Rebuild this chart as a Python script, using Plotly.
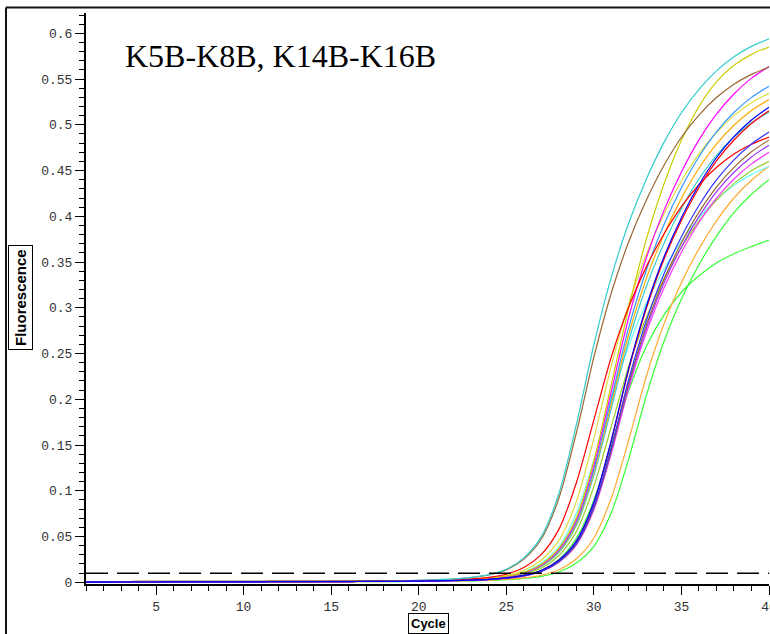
import plotly.graph_objects as go

# ---------------- data ----------------
cycles = [1, 2, 3, 4, 5, 6, 7, 8, 9, 10, 11, 12, 13, 14, 15, 16, 17, 18, 19, 20,
          21, 22, 23, 24, 25, 26, 27, 28, 29, 30, 31, 32, 33, 34, 35, 36, 37, 38, 39, 40]

cyan_1 = [0.0004, 0.0004, 0.0005, 0.0005, 0.0005, 0.0005, 0.0006, 0.0006, 0.0006, 0.0006,
          0.0007, 0.0007, 0.0008, 0.0008, 0.0009, 0.0010, 0.0011, 0.0013, 0.0016, 0.0021,
          0.0027, 0.0036, 0.0053, 0.0083, 0.0143, 0.0267, 0.0499, 0.0968, 0.1723, 0.2596,
          0.3338, 0.3932, 0.4407, 0.4805, 0.5132, 0.5388, 0.5590, 0.5744, 0.5857, 0.5940]
brown_1 = [0.0008, 0.0008, 0.0008, 0.0009, 0.0009, 0.0009, 0.0010, 0.0010, 0.0010, 0.0011,
           0.0011, 0.0012, 0.0012, 0.0013, 0.0013, 0.0014, 0.0015, 0.0016, 0.0018, 0.0020,
           0.0025, 0.0034, 0.0051, 0.0079, 0.0135, 0.0253, 0.0473, 0.0918, 0.1633, 0.2460,
           0.3164, 0.3727, 0.4177, 0.4555, 0.4864, 0.5106, 0.5298, 0.5444, 0.5551, 0.5630]
red_1 = [0.0002, 0.0002, 0.0003, 0.0003, 0.0003, 0.0004, 0.0004, 0.0004, 0.0005, 0.0005,
         0.0005, 0.0006, 0.0006, 0.0007, 0.0007, 0.0008, 0.0009, 0.0010, 0.0012, 0.0015,
         0.0020, 0.0025, 0.0037, 0.0054, 0.0088, 0.0162, 0.0304, 0.0578, 0.1088, 0.1774,
         0.2465, 0.3014, 0.3450, 0.3807, 0.4106, 0.4346, 0.4533, 0.4680, 0.4787, 0.4866]
gold_1 = [0.0002, 0.0002, 0.0003, 0.0003, 0.0003, 0.0004, 0.0004, 0.0004, 0.0005, 0.0005,
          0.0005, 0.0006, 0.0006, 0.0007, 0.0007, 0.0008, 0.0009, 0.0010, 0.0011, 0.0015,
          0.0018, 0.0024, 0.0030, 0.0045, 0.0066, 0.0108, 0.0197, 0.0371, 0.0706, 0.1328,
          0.2165, 0.3008, 0.3750, 0.4350, 0.4830, 0.5200, 0.5470, 0.5650, 0.5770, 0.5850]
magenta_1 = [0.0002, 0.0002, 0.0003, 0.0003, 0.0003, 0.0004, 0.0004, 0.0004, 0.0005, 0.0005,
             0.0005, 0.0006, 0.0006, 0.0007, 0.0007, 0.0008, 0.0009, 0.0010, 0.0011, 0.0014,
             0.0017, 0.0023, 0.0029, 0.0043, 0.0063, 0.0104, 0.0190, 0.0358, 0.0681, 0.1281,
             0.2089, 0.2902, 0.3549, 0.4062, 0.4483, 0.4835, 0.5118, 0.5337, 0.5510, 0.5637]
dodger_1 = [0.0002, 0.0002, 0.0003, 0.0003, 0.0003, 0.0004, 0.0004, 0.0004, 0.0005, 0.0005,
            0.0005, 0.0006, 0.0006, 0.0007, 0.0007, 0.0008, 0.0009, 0.0010, 0.0011, 0.0014,
            0.0017, 0.0022, 0.0028, 0.0042, 0.0061, 0.0100, 0.0183, 0.0344, 0.0655, 0.1232,
            0.2009, 0.2792, 0.3413, 0.3907, 0.4312, 0.4651, 0.4923, 0.5134, 0.5300, 0.5422]
khaki_1 = [0.0002, 0.0002, 0.0003, 0.0003, 0.0003, 0.0004, 0.0004, 0.0004, 0.0005, 0.0005,
           0.0005, 0.0006, 0.0006, 0.0007, 0.0007, 0.0008, 0.0009, 0.0010, 0.0012, 0.0016,
           0.0019, 0.0024, 0.0033, 0.0049, 0.0076, 0.0130, 0.0244, 0.0455, 0.0883, 0.1572,
           0.2369, 0.3046, 0.3588, 0.4022, 0.4385, 0.4683, 0.4916, 0.5100, 0.5241, 0.5344]
orange_1 = [0.0002, 0.0002, 0.0003, 0.0003, 0.0003, 0.0004, 0.0004, 0.0004, 0.0005, 0.0005,
            0.0005, 0.0006, 0.0006, 0.0007, 0.0007, 0.0008, 0.0009, 0.0010, 0.0011, 0.0014,
            0.0016, 0.0022, 0.0027, 0.0041, 0.0059, 0.0097, 0.0178, 0.0335, 0.0637, 0.1199,
            0.1955, 0.2716, 0.3321, 0.3802, 0.4196, 0.4525, 0.4790, 0.4995, 0.5157, 0.5276]
blue_1 = [0.0002, 0.0002, 0.0003, 0.0003, 0.0003, 0.0004, 0.0004, 0.0004, 0.0005, 0.0005,
          0.0005, 0.0006, 0.0006, 0.0007, 0.0007, 0.0008, 0.0009, 0.0010, 0.0011, 0.0013,
          0.0016, 0.0019, 0.0024, 0.0032, 0.0048, 0.0075, 0.0129, 0.0242, 0.0451, 0.0875,
          0.1557, 0.2347, 0.3018, 0.3555, 0.3985, 0.4344, 0.4640, 0.4871, 0.5053, 0.5193]
red_2 = [0.0004, 0.0004, 0.0005, 0.0005, 0.0005, 0.0005, 0.0006, 0.0006, 0.0006, 0.0006,
         0.0007, 0.0007, 0.0008, 0.0008, 0.0009, 0.0010, 0.0011, 0.0012, 0.0012, 0.0013,
         0.0016, 0.0019, 0.0024, 0.0032, 0.0048, 0.0075, 0.0128, 0.0240, 0.0448, 0.0869,
         0.1546, 0.2329, 0.2995, 0.3528, 0.3955, 0.4312, 0.4605, 0.4834, 0.5015, 0.5154]
cyan_2 = [0.0004, 0.0004, 0.0005, 0.0005, 0.0005, 0.0005, 0.0006, 0.0006, 0.0006, 0.0006,
          0.0007, 0.0007, 0.0008, 0.0008, 0.0009, 0.0010, 0.0011, 0.0012, 0.0012, 0.0013,
          0.0016, 0.0021, 0.0026, 0.0039, 0.0058, 0.0095, 0.0174, 0.0326, 0.0621, 0.1168,
          0.1904, 0.2646, 0.3235, 0.3703, 0.4087, 0.4408, 0.4666, 0.4866, 0.5023, 0.5139]
blue_2 = [0.0002, 0.0002, 0.0003, 0.0003, 0.0003, 0.0004, 0.0004, 0.0004, 0.0005, 0.0005,
          0.0005, 0.0006, 0.0006, 0.0007, 0.0007, 0.0008, 0.0009, 0.0010, 0.0011, 0.0013,
          0.0015, 0.0018, 0.0023, 0.0031, 0.0046, 0.0071, 0.0122, 0.0229, 0.0428, 0.0830,
          0.1476, 0.2224, 0.2861, 0.3370, 0.3777, 0.4118, 0.4398, 0.4617, 0.4790, 0.4922]
brown_2 = [0.0008, 0.0008, 0.0008, 0.0009, 0.0009, 0.0009, 0.0010, 0.0010, 0.0010, 0.0011,
           0.0011, 0.0012, 0.0012, 0.0013, 0.0013, 0.0014, 0.0015, 0.0016, 0.0018, 0.0019,
           0.0021, 0.0023, 0.0026, 0.0031, 0.0045, 0.0070, 0.0120, 0.0225, 0.0420, 0.0815,
           0.1450, 0.2185, 0.2810, 0.3310, 0.3710, 0.4045, 0.4320, 0.4535, 0.4705, 0.4835]
purple_1 = [0.0002, 0.0002, 0.0003, 0.0003, 0.0003, 0.0004, 0.0004, 0.0004, 0.0005, 0.0005,
            0.0005, 0.0006, 0.0006, 0.0007, 0.0007, 0.0008, 0.0009, 0.0010, 0.0011, 0.0012,
            0.0015, 0.0017, 0.0022, 0.0030, 0.0044, 0.0069, 0.0119, 0.0222, 0.0415, 0.0805,
            0.1433, 0.2159, 0.2776, 0.3270, 0.3665, 0.3996, 0.4268, 0.4481, 0.4649, 0.4777]
magenta_2 = [0.0002, 0.0002, 0.0003, 0.0003, 0.0003, 0.0004, 0.0004, 0.0004, 0.0005, 0.0005,
             0.0005, 0.0006, 0.0006, 0.0007, 0.0007, 0.0008, 0.0009, 0.0010, 0.0011, 0.0012,
             0.0015, 0.0017, 0.0022, 0.0029, 0.0044, 0.0068, 0.0117, 0.0219, 0.0408, 0.0792,
             0.1409, 0.2124, 0.2731, 0.3217, 0.3606, 0.3932, 0.4199, 0.4408, 0.4573, 0.4700]
ygreen_1 = [0.0002, 0.0002, 0.0003, 0.0003, 0.0003, 0.0004, 0.0004, 0.0004, 0.0005, 0.0005,
            0.0005, 0.0006, 0.0006, 0.0007, 0.0007, 0.0008, 0.0009, 0.0010, 0.0011, 0.0012,
            0.0014, 0.0019, 0.0024, 0.0035, 0.0052, 0.0085, 0.0155, 0.0292, 0.0556, 0.1046,
            0.1705, 0.2369, 0.2897, 0.3316, 0.3660, 0.3947, 0.4178, 0.4357, 0.4498, 0.4602]
lcyan_1 = [0.0002, 0.0002, 0.0003, 0.0003, 0.0003, 0.0004, 0.0004, 0.0004, 0.0005, 0.0005,
           0.0005, 0.0006, 0.0006, 0.0007, 0.0007, 0.0008, 0.0009, 0.0010, 0.0011, 0.0014,
           0.0016, 0.0021, 0.0028, 0.0041, 0.0065, 0.0111, 0.0207, 0.0387, 0.0751, 0.1337,
           0.2015, 0.2591, 0.3052, 0.3421, 0.3729, 0.3983, 0.4181, 0.4338, 0.4458, 0.4545]
orange_2 = [0.0001, 0.0001, 0.0001, 0.0002, 0.0002, 0.0002, 0.0002, 0.0003, 0.0003, 0.0003,
            0.0004, 0.0004, 0.0004, 0.0005, 0.0005, 0.0006, 0.0007, 0.0008, 0.0009, 0.0010,
            0.0012, 0.0013, 0.0018, 0.0023, 0.0033, 0.0048, 0.0077, 0.0137, 0.0257, 0.0484,
            0.0923, 0.1563, 0.2254, 0.2822, 0.3276, 0.3644, 0.3950, 0.4200, 0.4394, 0.4548]
green_1 = [0.0001, 0.0001, 0.0001, 0.0002, 0.0002, 0.0002, 0.0002, 0.0003, 0.0003, 0.0003,
           0.0004, 0.0004, 0.0004, 0.0005, 0.0005, 0.0006, 0.0006, 0.0007, 0.0008, 0.0009,
           0.0010, 0.0012, 0.0016, 0.0021, 0.0028, 0.0042, 0.0065, 0.0112, 0.0210, 0.0393,
           0.0762, 0.1356, 0.2043, 0.2628, 0.3096, 0.3470, 0.3783, 0.4040, 0.4241, 0.4400]
green_2 = [0.0002, 0.0002, 0.0003, 0.0003, 0.0003, 0.0004, 0.0004, 0.0004, 0.0005, 0.0005,
           0.0005, 0.0006, 0.0006, 0.0007, 0.0007, 0.0008, 0.0009, 0.0010, 0.0011, 0.0013,
           0.0016, 0.0020, 0.0025, 0.0033, 0.0048, 0.0075, 0.0130, 0.0250, 0.0480, 0.0900,
           0.1500, 0.2100, 0.2580, 0.2920, 0.3170, 0.3350, 0.3490, 0.3590, 0.3670, 0.3740]

threshold = 0.0098
y_tick_vals = [0, 0.05, 0.1, 0.15, 0.2, 0.25, 0.3, 0.35, 0.4, 0.45, 0.5, 0.55, 0.6]
y_tick_text = ["0", "0.05", "0.1", "0.15", "0.2", "0.25", "0.3", "0.35", "0.4",
               "0.45", "0.5", "0.55", "0.6"]
x_tick_vals = [5, 10, 15, 20, 25, 30, 35, 40]
x_tick_text = ["5", "10", "15", "20", "25", "30", "35", "40"]

title_text = "K5B-K8B, K14B-K16B"
x_title = "Cycle"
y_title = "Fluorescence"

# ---------------- styling ----------------
series = [
    (green_2, "#33FF33"), (green_1, "#33FF33"), (orange_2, "#FFAA33"),
    (lcyan_1, "#66FFFF"), (ygreen_1, "#99CC33"), (magenta_2, "#FF33FF"),
    (purple_1, "#9933FF"), (brown_2, "#996633"), (cyan_2, "#33CCCC"),
    (orange_1, "#FFAA00"), (khaki_1, "#DDDD44"), (dodger_1, "#3399FF"),
    (magenta_1, "#FF00FF"), (gold_1, "#CCCC00"), (red_1, "#FF0000"),
    (brown_1, "#996633"), (cyan_1, "#33CCCC"), (red_2, "#FF0000"),
    (blue_2, "#3333FF"), (blue_1, "#0000FF"),
]

fig = go.Figure()
for vals, col in series:
    fig.add_trace(go.Scatter(x=cycles, y=vals, mode="lines",
                             line=dict(color=col, width=1.2, shape="spline", smoothing=0.8),
                             hoverinfo="skip", showlegend=False))

L, R, T, B = 86, 1, 13, 50
W, H = 770, 634
pw, ph = W - L - R, H - T - B


def px_x(px):
    return (px - L) / pw


def px_y(py):
    return (H - B - py) / ph


tick_font = dict(family="Liberation Mono, DejaVu Sans Mono, monospace", size=13, color="#333333")

fig.update_layout(
    width=W, height=H,
    margin=dict(l=L, r=R, t=T, b=B, pad=0, autoexpand=False),
    paper_bgcolor="white", plot_bgcolor="white",
    showlegend=False,
    xaxis=dict(range=[1, 40], showline=True, linecolor="black", linewidth=2,
               automargin=False,
               showgrid=False, zeroline=False, ticklabeloverflow="allow",
               tickmode="array", tickvals=x_tick_vals, ticktext=x_tick_text,
               ticks="outside", ticklen=9, tickwidth=1, tickcolor="black",
               minor=dict(ticks="outside", dtick=1, tick0=0, ticklen=5,
                          tickwidth=1, tickcolor="black", showgrid=False),
               tickfont=tick_font),
    yaxis=dict(range=[-0.0019, 0.6222], showline=True, linecolor="black", linewidth=2,
               automargin=False,
               showgrid=False, zeroline=False,
               tickmode="array", tickvals=y_tick_vals, ticktext=y_tick_text,
               ticks="outside", ticklen=9, tickwidth=1, tickcolor="black",
               minor=dict(ticks="outside", dtick=0.01, tick0=0, ticklen=5,
                          tickwidth=1, tickcolor="black", showgrid=False),
               tickfont=tick_font),
)

# threshold line
fig.add_shape(type="line", xref="paper", x0=0, x1=1, yref="y", y0=threshold, y1=threshold,
              line=dict(color="black", width=1.5, dash="22px,9px"))

# outer frame (top and left edges)
fig.add_shape(type="line", xref="paper", yref="paper",
              x0=px_x(6), x1=px_x(800), y0=px_y(7.5), y1=px_y(7.5),
              line=dict(color="#111111", width=2))
fig.add_shape(type="line", xref="paper", yref="paper",
              x0=px_x(6), x1=px_x(6), y0=px_y(7.5), y1=px_y(700),
              line=dict(color="#111111", width=2))

fig.add_annotation(text=title_text, xref="paper", yref="paper",
                   x=px_x(123), y=px_y(56), xanchor="left", yanchor="middle",
                   showarrow=False,
                   font=dict(family="Liberation Serif, Times New Roman, serif", size=32, color="black"))
fig.add_annotation(text="<b>" + y_title + "</b>", xref="paper", yref="paper",
                   x=px_x(20.5), y=px_y(297.5), xanchor="center", yanchor="middle",
                   textangle=-90, showarrow=False,
                   bordercolor="black", borderwidth=1, borderpad=3, bgcolor="white",
                   font=dict(family="Liberation Sans, Arial, sans-serif", size=15, color="black"))
fig.add_annotation(text="<b>" + x_title + "</b>", xref="paper", yref="paper",
                   x=px_x(428.5), y=px_y(623), xanchor="center", yanchor="middle",
                   showarrow=False,
                   bordercolor="black", borderwidth=1, borderpad=2, bgcolor="white",
                   font=dict(family="Liberation Sans, Arial, sans-serif", size=13, color="black"))

fig.write_html("out.html")
